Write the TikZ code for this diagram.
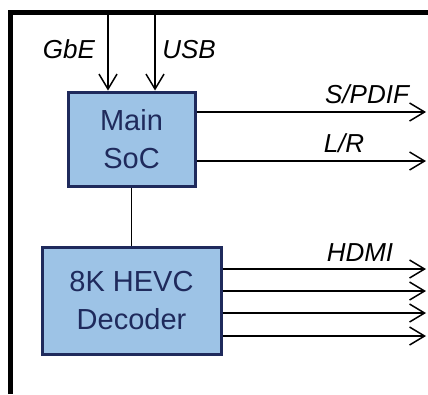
\documentclass[tikz,border=0pt]{standalone}
\usepackage{fontspec}
\setmainfont{Liberation Sans}
\usetikzlibrary{arrows.meta}
\definecolor{boxfill}{HTML}{9DC3E6}
\definecolor{boxline}{HTML}{1F2A5C}
\begin{document}
\begin{tikzpicture}[x=1pt,y=-1pt,
  blk/.style={draw=boxline, fill=boxfill, line width=3pt, inner sep=0pt, align=center,
    text=boxline, font=\fontsize{29}{38}\selectfont},
  arr/.style={line width=1.5pt, -{Straight Barb[length=15pt,width=18pt,line width=1.5pt]}},
  lbl/.style={anchor=base, inner sep=0pt, font=\fontsize{26}{30}\selectfont\itshape}]
\useasboundingbox (0,0) rectangle (428,394);
% frame
\draw[line width=5pt, line join=miter] (10,394) -- (10,12.5) -- (428,12.5);
% blocks
\node[blk, minimum width=127pt, minimum height=94pt] (soc) at (131.5,139) {Main\\SoC};
\node[blk, minimum width=179pt, minimum height=107pt] (dec) at (131.5,300.5) {8K HEVC\\Decoder};
% inputs
\coordinate (gtop) at (108,15);
\coordinate (utop) at (155,15);
\draw[arr] (gtop) -- (gtop |- soc.north);
\draw[arr] (utop) -- (utop |- soc.north);
\node[lbl] (gbe) at (69,58) {GbE};
\node[lbl] (usb) at (189,58) {USB};
% SoC outputs
\coordinate (spend) at (426,112);
\coordinate (lrend) at (426,161);
\draw[arr] (soc.east |- spend) -- (spend);
\draw[arr] (soc.east |- lrend) -- (lrend);
\node[lbl] (spdif) at (367,103) {S/PDIF};
\node[lbl] (lr) at (344,152) {L/R};
% link
\draw[line width=1.5pt] (soc.south) -- (dec.north);
% HDMI outputs
\coordinate (h1) at (426,269);
\coordinate (h2) at (426,291);
\coordinate (h3) at (426,313);
\coordinate (h4) at (426,336);
\foreach \h in {h1,h2,h3,h4} \draw[arr] (dec.east |- \h) -- (\h);
\node[lbl] (hdmi) at (360,261) {HDMI};
\end{tikzpicture}
\end{document}
